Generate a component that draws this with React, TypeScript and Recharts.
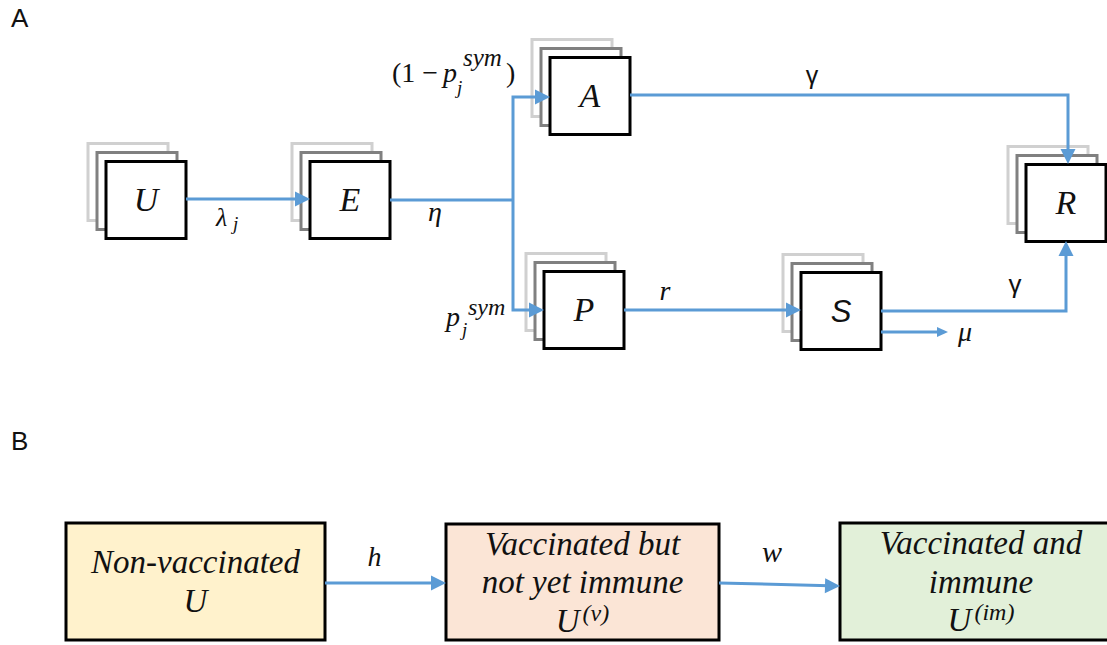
import React from 'react';
import { ScatterChart, Scatter, XAxis, YAxis } from 'recharts';

const W = 1107;
const H = 645;
const BLUE = '#5B9BD5';
const SERIF = '"Liberation Serif", "DejaVu Serif", serif';
const SANS = '"Liberation Sans", "DejaVu Sans", sans-serif';

// panel A compartments (box centres in diagram units)
const compartments = [
  { id: 'U', x: 146, y: 200 },
  { id: 'E', x: 350, y: 200 },
  { id: 'A', x: 590, y: 96 },
  { id: 'P', x: 584, y: 310 },
  { id: 'S', x: 841, y: 311 },
  { id: 'R', x: 1066, y: 203 },
];

// panel B vaccination stages
const stages = [
  { id: 'nonvac', x: 195.5, y: 581.5 },
  { id: 'vac', x: 582.5, y: 582 },
  { id: 'immune', x: 981, y: 581.5 },
];

const stageText: Record<string, { t: string; sup?: string }[]> = {
  nonvac: [{ t: 'Non-vaccinated' }, { t: 'U' }],
  vac: [{ t: 'Vaccinated but' }, { t: 'not yet immune' }, { t: 'U', sup: '(v)' }],
  immune: [{ t: 'Vaccinated and' }, { t: 'immune' }, { t: 'U', sup: '(im)' }],
};

// flows between compartments, as waypoints
const flows: { path: number[][]; arrow?: 'big' | 'small' }[] = [
  { path: [[186, 199], [310, 199]], arrow: 'big' },
  { path: [[390, 200], [513, 200]] },
  { path: [[513, 200], [513, 97], [550, 97]], arrow: 'big' },
  { path: [[513, 200], [513, 310], [544, 310]], arrow: 'big' },
  { path: [[630, 95], [1068, 95], [1068, 164]], arrow: 'big' },
  { path: [[624, 310], [801, 310]], arrow: 'big' },
  { path: [[881, 311], [1066, 311], [1066, 241]], arrow: 'big' },
  { path: [[881, 332], [948, 332]], arrow: 'small' },
  { path: [[325, 583], [446, 583]], arrow: 'big' },
  { path: [[719, 583], [840, 586]], arrow: 'big' },
];

// rate labels
const labels = [
  { id: 'panelA', x: 11, y: 27 },
  { id: 'panelB', x: 11, y: 450 },
  { id: 'lambda', x: 216, y: 226 },
  { id: 'eta', x: 428, y: 221 },
  { id: 'oneMinus', x: 392, y: 82 },
  { id: 'pSym', x: 446, y: 326 },
  { id: 'gammaTop', x: 812, y: 84 },
  { id: 'r', x: 665, y: 300 },
  { id: 'gammaBottom', x: 1015, y: 293 },
  { id: 'mu', x: 965, y: 341 },
  { id: 'h', x: 374.5, y: 566 },
  { id: 'w', x: 772, y: 562 },
];

type Run = { t: string; dx?: number; dy?: number; size: number; italic?: boolean; family?: string; anchor?: 'start' | 'middle' };

const LABEL_RUNS: Record<string, Run[]> = {
  panelA: [{ t: 'A', size: 26, family: SANS }],
  panelB: [{ t: 'B', size: 26, family: SANS }],
  lambda: [
    { t: 'λ', size: 26, italic: true },
    { t: 'j', dx: 17, dy: 4, size: 19, italic: true },
  ],
  eta: [{ t: 'η', size: 28, italic: true }],
  oneMinus: [
    { t: '(1 − ', size: 28 },
    { t: 'p', dx: 51, size: 28, italic: true },
    { t: 'j', dx: 65, dy: 12, size: 19, italic: true },
    { t: 'sym', dx: 71, dy: -16, size: 25, italic: true },
    { t: ')', dx: 114, size: 28 },
  ],
  pSym: [
    { t: 'p', size: 28, italic: true },
    { t: 'j', dx: 16, dy: 10, size: 19, italic: true },
    { t: 'sym', dx: 22, dy: -11, size: 24, italic: true },
  ],
  gammaTop: [{ t: 'γ', size: 25, family: SANS, anchor: 'middle' }],
  r: [{ t: 'r', size: 28, italic: true, anchor: 'middle' }],
  gammaBottom: [{ t: 'γ', size: 26, family: SANS, anchor: 'middle' }],
  mu: [{ t: 'μ', size: 28, italic: true, anchor: 'middle' }],
  h: [{ t: 'h', size: 28, italic: true, anchor: 'middle' }],
  w: [{ t: 'w', size: 30, italic: true, anchor: 'middle' }],
};

const STAGE_BOX: Record<string, { w: number; h: number; fill: string }> = {
  nonvac: { w: 259, h: 117, fill: '#FFF2CC' },
  vac: { w: 273, h: 116, fill: '#FBE5D6' },
  immune: { w: 282, h: 117, fill: '#E2F0D9' },
};

const HEAD = { big: { len: 15, half: 7.5 }, small: { len: 11, half: 5 } };

const lineData = flows.map((f) => {
  const pts = f.path.map(([x, y]) => ({ x, y }));
  if (f.arrow) {
    const a = pts[pts.length - 2];
    const b = pts[pts.length - 1];
    const d = Math.hypot(b.x - a.x, b.y - a.y);
    const cut = HEAD[f.arrow].len * 0.7;
    pts[pts.length - 1] = { x: b.x - ((b.x - a.x) / d) * cut, y: b.y - ((b.y - a.y) / d) * cut };
  }
  return pts;
});

const tips = flows
  .filter((f) => f.arrow)
  .map((f) => {
    const [x1, y1] = f.path[f.path.length - 2];
    const [x2, y2] = f.path[f.path.length - 1];
    return { x: x2, y: y2, angle: (Math.atan2(y2 - y1, x2 - x1) * 180) / Math.PI, kind: f.arrow as 'big' | 'small' };
  });

const Empty = () => <g />;

const StackBox = (props: any) => {
  const { cx, cy, payload } = props;
  const w = 80;
  const h = 77;
  const layers = [
    { d: 18, c: '#D0D0D0' },
    { d: 9, c: '#808080' },
    { d: 0, c: '#000000' },
  ];
  const sans = payload.id === 'S';
  return (
    <g>
      {layers.map((l, i) => (
        <rect key={i} x={cx - w / 2 - l.d} y={cy - h / 2 - l.d} width={w} height={h} fill="#fff" stroke={l.c} strokeWidth={3} />
      ))}
      <text x={cx} y={cy + 11} textAnchor="middle" fontSize={sans ? 31 : 34} fontStyle="italic" fontFamily={sans ? SANS : SERIF} fill="#111">
        {payload.id}
      </text>
    </g>
  );
};

const StageBox = (props: any) => {
  const { cx, cy, payload } = props;
  const box = STAGE_BOX[payload.id];
  const lines = stageText[payload.id];
  const gap = 38.5;
  const first = cy + 11 - ((lines.length - 1) * gap) / 2;
  return (
    <g>
      <rect x={cx - box.w / 2} y={cy - box.h / 2} width={box.w} height={box.h} fill={box.fill} stroke="#000" strokeWidth={3} />
      {lines.map((ln, i) => (
        <text key={i} x={cx} y={first + i * gap} textAnchor="middle" fontSize={33} fontStyle="italic" fontFamily={SERIF} fill="#111">
          {ln.t}
          {ln.sup && (
            <tspan fontSize={24} dx={3} dy={-11}>
              {ln.sup}
            </tspan>
          )}
        </text>
      ))}
    </g>
  );
};

const ArrowHead = (props: any) => {
  const { cx, cy, payload } = props;
  const { len, half } = HEAD[payload.kind as 'big' | 'small'];
  return (
    <polygon
      points={`0,0 ${-len},${-half} ${-len},${half}`}
      fill={BLUE}
      transform={`translate(${cx},${cy}) rotate(${payload.angle})`}
    />
  );
};

const RateLabel = (props: any) => {
  const { cx, cy, payload } = props;
  const runs = LABEL_RUNS[payload.id];
  return (
    <g>
      {runs.map((r, i) => (
        <text
          key={i}
          x={cx + (r.dx || 0)}
          y={cy + (r.dy || 0)}
          fontSize={r.size}
          fontFamily={r.family || SERIF}
          fontStyle={r.italic ? 'italic' : 'normal'}
          textAnchor={r.anchor || 'start'}
          fill="#111"
        >
          {r.t}
        </text>
      ))}
    </g>
  );
};

const App: React.FC = () => {
  return (
    <div style={{ position: 'absolute', left: 0, top: 0, width: W, height: H, overflow: 'hidden', background: '#fff' }}>
      <ScatterChart width={W} height={H} margin={{ top: 0, right: 0, bottom: 0, left: 0 }}>
        <XAxis type="number" dataKey="x" domain={[0, W]} hide />
        <YAxis type="number" dataKey="y" domain={[0, H]} reversed hide />
        <Scatter data={compartments} shape={StackBox} isAnimationActive={false} />
        <Scatter data={stages} shape={StageBox} isAnimationActive={false} />
        {lineData.map((pts, i) => (
          <Scatter
            key={i}
            data={pts}
            line={{ stroke: BLUE, strokeWidth: 3 }}
            lineJointType="linear"
            shape={Empty}
            isAnimationActive={false}
          />
        ))}
        <Scatter data={tips} shape={ArrowHead} isAnimationActive={false} />
        <Scatter data={labels} shape={RateLabel} isAnimationActive={false} />
      </ScatterChart>
    </div>
  );
};

export default App;
